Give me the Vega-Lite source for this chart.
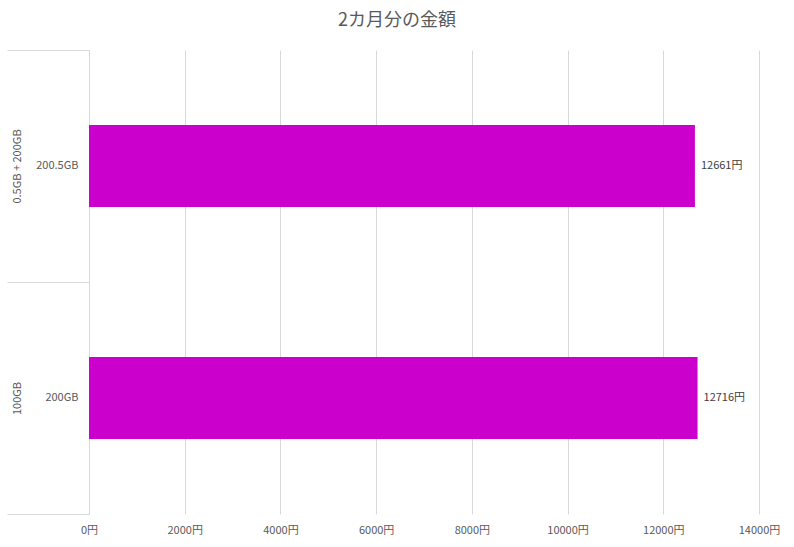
{
  "$schema": "https://vega.github.io/schema/vega-lite/v6.json",
  "autosize": {"type": "none"},
  "width": 670,
  "height": 464,
  "padding": {"left": 89, "top": 50, "right": 35, "bottom": 33},
  "background": "white",
  "title": {
    "text": "2カ月分の金額",
    "fontSize": 18,
    "fontWeight": "normal",
    "color": "#595959",
    "font": "Noto Sans CJK JP",
    "anchor": "middle",
    "dx": -27,
    "offset": 20
  },
  "data": {
    "values": [
      {"group": "0.5GB + 200GB", "label": "200.5GB", "value": 12661},
      {"group": "100GB", "label": "200GB", "value": 12716}
    ]
  },
  "transform": [
    {"calculate": "datum.value + '円'", "as": "text"}
  ],
  "encoding": {
    "y": {
      "field": "label",
      "type": "nominal",
      "sort": null,
      "scale": {"paddingInner": 0, "paddingOuter": 0}
    },
    "x": {
      "field": "value",
      "type": "quantitative",
      "scale": {"domain": [0, 14000], "nice": false},
      "axis": {
        "title": null,
        "values": [0, 2000, 4000, 6000, 8000, 10000, 12000, 14000],
        "labelExpr": "datum.value + '円'",
        "labelFlush": false,
        "domain": false,
        "ticks": false,
        "grid": true,
        "gridColor": "#d9d9d9",
        "labelPadding": 10,
        "labelFontSize": 11,
        "labelColor": "#595959",
        "labelFont": "Noto Sans CJK JP"
      }
    }
  },
  "layer": [
    {
      "mark": {"type": "bar", "color": "#cc00cc", "height": {"band": 0.354}},
      "encoding": {
        "y": {
          "field": "label",
          "type": "nominal",
          "sort": null,
          "axis": {
            "title": null,
            "domain": true,
            "domainColor": "#d9d9d9",
            "ticks": false,
            "labelPadding": 11,
            "labelFontSize": 11,
            "labelColor": "#595959",
            "labelFont": "Noto Sans CJK JP"
          }
        }
      }
    },
    {
      "mark": {
        "type": "text",
        "align": "left",
        "dx": 6,
        "fontSize": 11,
        "color": "#404040",
        "font": "Noto Sans CJK JP"
      },
      "encoding": {
        "text": {"field": "text"},
        "y": {
          "field": "label",
          "type": "nominal",
          "sort": null,
          "axis": {
            "orient": "left",
            "title": null,
            "domain": false,
            "ticks": true,
            "tickBand": "extent",
            "tickSize": 82,
            "tickColor": "#d9d9d9",
            "labelExpr": "datum.value == '200.5GB' ? '0.5GB + 200GB' : datum.value == '200GB' ? '100GB' : ''",
            "labelAngle": -90,
            "labelAlign": "center",
            "labelBaseline": "middle",
            "labelPadding": -10,
            "labelFontSize": 11,
            "labelColor": "#595959",
            "labelFont": "Noto Sans CJK JP"
          }
        }
      }
    }
  ],
  "resolve": {"axis": {"y": "independent"}},
  "config": {"view": {"stroke": null}}
}
